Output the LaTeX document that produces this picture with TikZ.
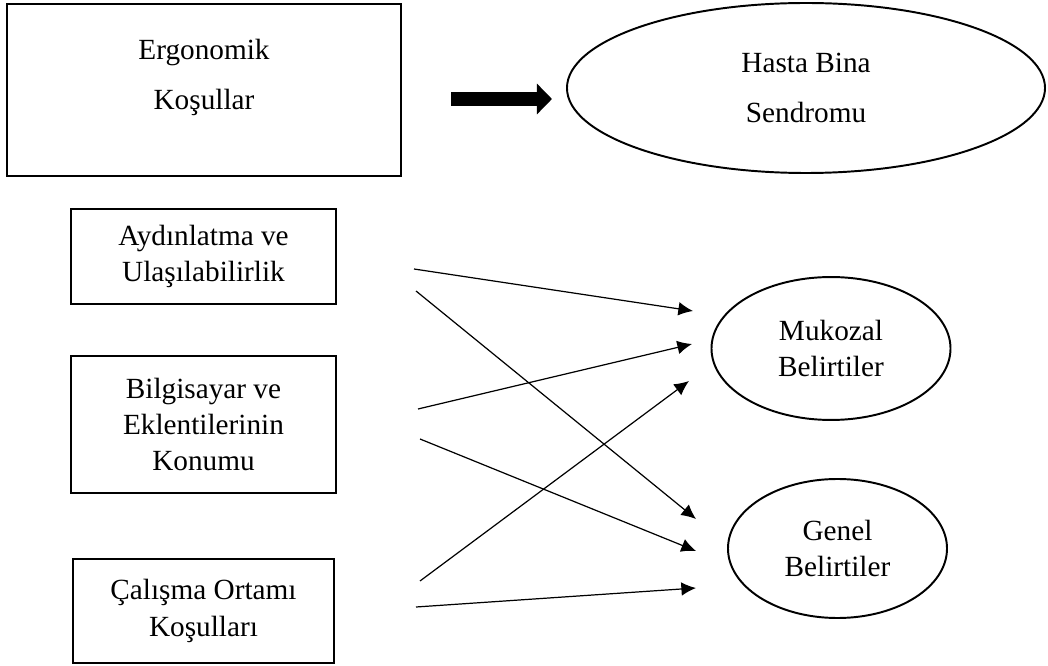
\documentclass[tikz,border=0pt]{standalone}
\usepackage{fontspec}
\setmainfont{Liberation Serif}
\usetikzlibrary{shapes.geometric,arrows.meta}
\newcommand{\Yazi}{\fontsize{12}{14.8}\selectfont}

\begin{document}
\begin{tikzpicture}[x=0.41pt,y=-0.41pt,
    kutu/.style={draw,line width=0.8pt,rectangle,align=center,inner sep=0pt,font=\Yazi},
    elips/.style={draw,line width=0.8pt,ellipse,align=center,inner sep=0pt,font=\Yazi},
    ok/.style={-{Latex[length=6pt,width=5.6pt]},line width=0.5pt},
    kalinok/.style={-{Triangle[length=6.2pt,width=12.3pt]},line width=5.7pt}]
  \useasboundingbox (0,0) rectangle (1048,666);

  % ust kisim
  \node[kutu,minimum width=161.5pt,minimum height=70.5pt] (ergo) at (204,90) {};
  \node[align=center,font=\Yazi,inner sep=0pt] (ergoyazi) at (204,77)
    {Ergonomik\\[5.7pt]Koşullar};
  \node[elips,minimum width=196pt,minimum height=69.7pt] (hbs) at (806,88)
    {Hasta Bina\\[5.7pt]Sendromu};
  \coordinate (k1) at (451,99);
  \coordinate (k2) at (552,99);
  \draw[kalinok] (k1) -- (k2);

  % alt kisim
  \node[kutu,minimum width=108.7pt,minimum height=39pt] (aydin) at (203.5,256.5)
    {Aydınlatma ve\\Ulaşılabilirlik};
  \node[kutu,minimum width=108.7pt,minimum height=56.2pt] (bilgi) at (203.5,424.5)
    {Bilgisayar ve\\Eklentilerinin\\Konumu};
  \node[kutu,minimum width=107pt,minimum height=42.6pt] (calisma) at (203.5,611)
    {Çalışma Ortamı\\Koşulları};
  \node[elips,minimum width=98pt,minimum height=58.6pt] (mukozal) at (831,348.5)
    {Mukozal\\Belirtiler};
  \node[elips,minimum width=89.8pt,minimum height=57pt] (genel) at (837.5,548.5)
    {Genel\\Belirtiler};

  % oklar
  \coordinate (a1) at (414,269);
  \coordinate (a2) at (416,291);
  \coordinate (b1) at (418,409);
  \coordinate (b2) at (420,439);
  \coordinate (c1) at (420,581);
  \coordinate (c2) at (416,607);
  \coordinate (m1) at (693,311);
  \coordinate (m2) at (692,344);
  \coordinate (m3) at (689,381);
  \coordinate (g1) at (696,519);
  \coordinate (g2) at (696,551);
  \coordinate (g3) at (696,588);
  \foreach \bas/\son in {a1/m1,a2/g1,b1/m2,b2/g2,c1/m3,c2/g3}
    \draw[ok] (\bas) -- (\son);
\end{tikzpicture}
\end{document}
